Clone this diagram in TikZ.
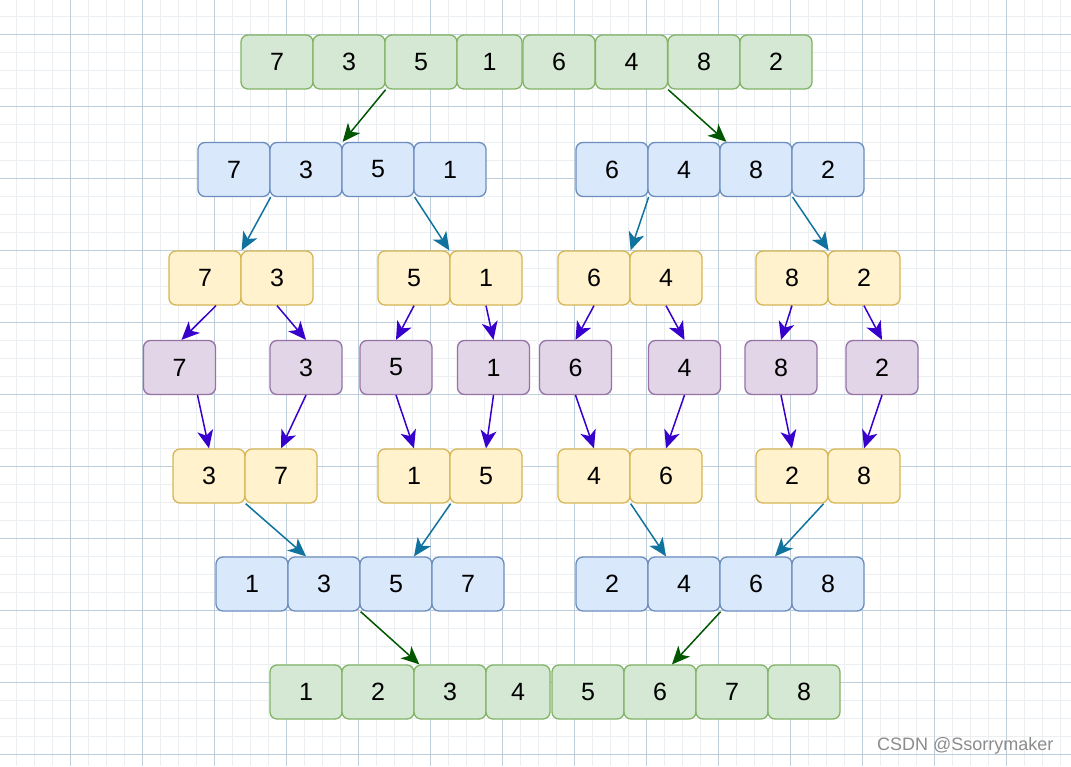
\documentclass[tikz,border=0pt]{standalone}
\usepackage{fontspec}
\setmainfont{Liberation Sans}
\usetikzlibrary{arrows.meta, positioning}

\definecolor{gfill}{HTML}{D5E8D4}
\definecolor{gdraw}{HTML}{82B366}
\definecolor{bfill}{HTML}{DAE8FC}
\definecolor{bdraw}{HTML}{6C8EBF}
\definecolor{yfill}{HTML}{FFF2CC}
\definecolor{ydraw}{HTML}{D6B656}
\definecolor{pfill}{HTML}{E1D5E7}
\definecolor{pdraw}{HTML}{9673A6}
\definecolor{garr}{HTML}{005700}
\definecolor{barr}{HTML}{10739E}
\definecolor{parr}{HTML}{3700CC}
\definecolor{gridminor}{HTML}{ECEFF2}
\definecolor{gridmajor}{HTML}{BFCEDB}

\begin{document}
\begin{tikzpicture}[x=1pt, y=-1pt]
 \tikzstyle{box}=[rectangle, rounded corners=7pt, line width=1.3pt, minimum width=72pt, minimum height=54pt, inner sep=0pt, font=\fontsize{25}{30}\selectfont]
 \tikzstyle{gnode}=[box, fill=gfill, draw=gdraw]
 \tikzstyle{bnode}=[box, fill=bfill, draw=bdraw]
 \tikzstyle{ynode}=[box, fill=yfill, draw=ydraw]
 \tikzstyle{pnode}=[box, fill=pfill, draw=pdraw]
 \tikzstyle{arr}=[draw, line width=1.5pt, -{Stealth[length=18pt, width=16pt, inset=5pt]}]
 \tikzstyle{gline}=[arr, color=garr]
 \tikzstyle{bline}=[arr, color=barr]
 \tikzstyle{pline}=[arr, color=parr]

 % paper grid
 \fill[white] (0,0) rectangle (1071,766);
 \useasboundingbox (0,0) rectangle (1071,766);
 \foreach \gx in {16,34,...,1060} \draw[gridminor, line width=1pt] (\gx,0) -- (\gx,766);
 \foreach \gy in {16,34,...,760} \draw[gridminor, line width=1pt] (0,\gy) -- (1071,\gy);
 \foreach \gx in {70,142,...,1006} \draw[gridmajor, line width=1pt] (\gx,0) -- (\gx,766);
 \foreach \gy in {34,106,...,754} \draw[gridmajor, line width=1pt] (0,\gy) -- (1071,\gy);

 % row 1
 \draw (277, 62) node[gnode] (t1) {7};
 \draw (349, 62) node[gnode] (t2) {3};
 \draw (421, 62) node[gnode] (t3) {5};
 \draw (489.5, 62) node[gnode, minimum width=65pt] (t4) {1};
 \draw (559, 62) node[gnode] (t5) {6};
 \draw (631.5, 62) node[gnode] (t6) {4};
 \draw (704, 62) node[gnode] (t7) {8};
 \draw (776, 62) node[gnode] (t8) {2};

 % row 2
 \draw (234, 169.5) node[bnode] (a1) {7};
 \draw (306, 169.5) node[bnode] (a2) {3};
 \draw (378, 169.5) node[bnode] (a3) {5};
 \draw (450, 169.5) node[bnode] (a4) {1};
 \draw (612, 169.5) node[bnode] (a5) {6};
 \draw (684, 169.5) node[bnode] (a6) {4};
 \draw (756, 169.5) node[bnode] (a7) {8};
 \draw (828, 169.5) node[bnode] (a8) {2};

 % row 3
 \draw (205, 278) node[ynode] (b1) {7};
 \draw (277, 278) node[ynode] (b2) {3};
 \draw (414, 278) node[ynode] (b3) {5};
 \draw (486, 278) node[ynode] (b4) {1};
 \draw (594, 278) node[ynode] (b5) {6};
 \draw (666, 278) node[ynode] (b6) {4};
 \draw (792, 278) node[ynode] (b7) {8};
 \draw (864, 278) node[ynode] (b8) {2};

 % row 4
 \draw (179.5, 367.5) node[pnode] (c1) {7};
 \draw (306, 367.5) node[pnode] (c2) {3};
 \draw (396, 367.5) node[pnode] (c3) {5};
 \draw (493.5, 367.5) node[pnode] (c4) {1};
 \draw (575.5, 367.5) node[pnode] (c5) {6};
 \draw (684.5, 367.5) node[pnode] (c6) {4};
 \draw (781, 367.5) node[pnode] (c7) {8};
 \draw (882, 367.5) node[pnode] (c8) {2};

 % row 5
 \draw (209, 476) node[ynode] (d1) {3};
 \draw (281, 476) node[ynode] (d2) {7};
 \draw (414, 476) node[ynode] (d3) {1};
 \draw (486, 476) node[ynode] (d4) {5};
 \draw (594, 476) node[ynode] (d5) {4};
 \draw (666, 476) node[ynode] (d6) {6};
 \draw (792, 476) node[ynode] (d7) {2};
 \draw (864, 476) node[ynode] (d8) {8};

 % row 6
 \draw (252, 584) node[bnode] (e1) {1};
 \draw (324, 584) node[bnode] (e2) {3};
 \draw (396, 584) node[bnode] (e3) {5};
 \draw (468, 584) node[bnode] (e4) {7};
 \draw (612, 584) node[bnode] (e5) {2};
 \draw (684, 584) node[bnode] (e6) {4};
 \draw (756, 584) node[bnode] (e7) {6};
 \draw (828, 584) node[bnode] (e8) {8};

 % row 7
 \draw (306, 692) node[gnode] (f1) {1};
 \draw (378, 692) node[gnode] (f2) {2};
 \draw (450, 692) node[gnode] (f3) {3};
 \draw (518, 692) node[gnode, minimum width=64pt] (f4) {4};
 \draw (588, 692) node[gnode] (f5) {5};
 \draw (660, 692) node[gnode] (f6) {6};
 \draw (732, 692) node[gnode] (f7) {7};
 \draw (804, 692) node[gnode] (f8) {8};

 % split
 \path [gline] (t2.south east) -- (a2.north east);
 \path [gline] (t6.south east) -- ([xshift=7pt]a7.north west);
 \path [bline] (a1.south east) -- (b1.north east);
 \path [bline] (a3.south east) -- (b4.north west);
 \path [bline] (a5.south east) -- (b5.north east);
 \path [bline] (a7.south east) -- (b7.north east);
 \path [pline] ([xshift=11pt]b1.south) -- ([xshift=2pt]c1.north);
 \path [pline] (b2.south) -- (c2.north);
 \path [pline] (b3.south) -- (c3.north);
 \path [pline] (b4.south) -- (c4.north);
 \path [pline] (b5.south) -- (c5.north);
 \path [pline] (b6.south) -- (c6.north);
 \path [pline] (b7.south) -- (c7.north);
 \path [pline] (b8.south) -- (c8.north);

 % merge
 \path [pline] ([xshift=18pt]c1.south) -- (d1.north);
 \path [pline] (c2.south) -- (d2.north);
 \path [pline] (c3.south) -- (d3.north);
 \path [pline] (c4.south) -- (d4.north);
 \path [pline] (c5.south) -- (d5.north);
 \path [pline] (c6.south) -- (d6.north);
 \path [pline] (c7.south) -- (d7.north);
 \path [pline] (c8.south) -- (d8.north);
 \path [bline] (d1.south east) -- ([xshift=-18pt]e2.north);
 \path [bline] (d3.south east) -- ([xshift=18pt]e3.north);
 \path [bline] (d5.south east) -- ([xshift=-18pt]e6.north);
 \path [bline] ([xshift=-5pt]d7.south east) -- ([xshift=19pt]e7.north);
 \path [gline] (e2.south east) -- ([xshift=6pt]f3.north west);
 \path [gline] (e6.south east) -- ([xshift=12pt]f6.north);

 \draw (877, 746) node[anchor=west, inner sep=0pt, text=black!45, font=\fontsize{18}{20}\selectfont] (mark) {CSDN @Ssorrymaker};
\end{tikzpicture}
\end{document}
